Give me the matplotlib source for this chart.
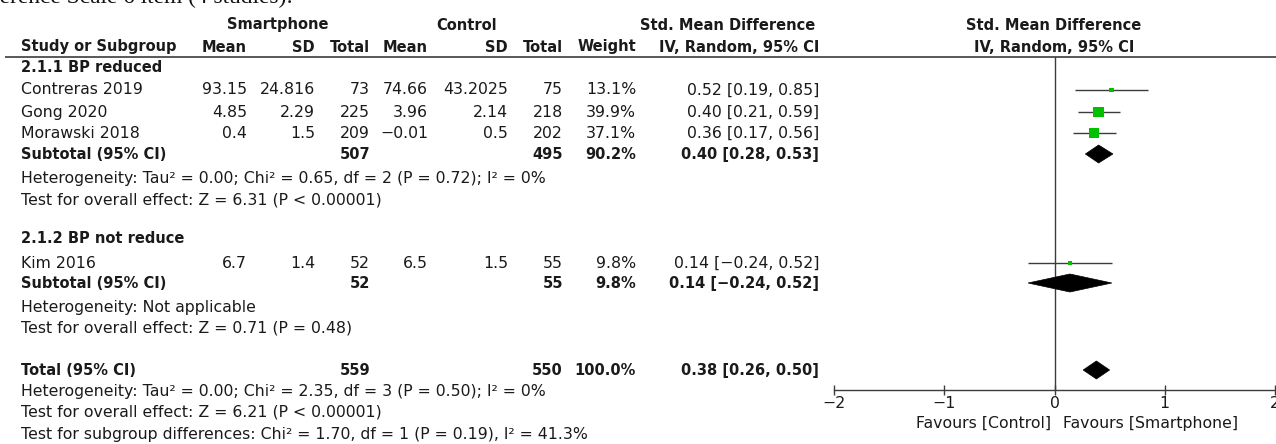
import matplotlib
matplotlib.use("Agg")
import matplotlib.pyplot as plt
from matplotlib.patches import Polygon

# ---------------------------------------------------------------- data
studies = ["Contreras 2019", "Gong 2020", "Morawski 2018", "Kim 2016"]
sp_mean = [93.15, 4.85, 0.4, 6.7]
sp_sd = [24.816, 2.29, 1.5, 1.4]
sp_n = [73, 225, 209, 52]
ct_mean = [74.66, 3.96, -0.01, 6.5]
ct_sd = [43.2025, 2.14, 0.5, 1.5]
ct_n = [75, 218, 202, 55]
weight = [13.1, 39.9, 37.1, 9.8]
smd = [0.52, 0.40, 0.36, 0.14]
smd_lo = [0.19, 0.21, 0.17, -0.24]
smd_hi = [0.85, 0.59, 0.56, 0.52]

groups = ["2.1.1 BP reduced", "2.1.2 BP not reduce"]
sub_sp_n = [507, 52]
sub_ct_n = [495, 55]
sub_weight = [90.2, 9.8]
sub_smd = [0.40, 0.14]
sub_lo = [0.28, -0.24]
sub_hi = [0.53, 0.52]
sub_het = ["Heterogeneity: Tau² = 0.00; Chi² = 0.65, df = 2 (P = 0.72); I² = 0%",
           "Heterogeneity: Not applicable"]
sub_test = ["Test for overall effect: Z = 6.31 (P < 0.00001)",
            "Test for overall effect: Z = 0.71 (P = 0.48)"]

tot_sp_n = 559
tot_ct_n = 550
tot_weight = 100.0
tot_smd = 0.38
tot_lo = 0.26
tot_hi = 0.50
tot_notes = ["Heterogeneity: Tau² = 0.00; Chi² = 2.35, df = 3 (P = 0.50); I² = 0%",
             "Test for overall effect: Z = 6.21 (P < 0.00001)",
             "Test for subgroup differences: Chi² = 1.70, df = 1 (P = 0.19), I² = 41.3%"]

x_ticks = [-2, -1, 0, 1, 2]
favours = ("Favours [Control]", "Favours [Smartphone]")
caption = "Difference Scale 6 item (4 studies):"

# ---------------------------------------------------------------- layout (pixels)
W, H, DPI = 1276, 444, 100
FS = 11.3      # regular text
FSB = 10.5     # bold text
TXT = "#1a1a1a"
LINE = "#3c3c3c"
GREEN = "#00c000"

study_y = [90, 112, 133, 263]
group_y = [68, 238]
sub_y = [154, 283]
sub_het_y = [178, 307]
sub_test_y = [200, 328]
total_y = 370
total_notes_y = [391, 412, 434]

col_left = 21
col_right = {"sp_mean": 247, "sp_sd": 315, "sp_n": 370, "ct_mean": 428,
             "ct_sd": 508, "ct_n": 563, "weight": 636, "ci": 819}


def num(v):
    return f"{v:g}".replace("-", "\u2212")


def ci_text(est, lo, hi):
    return f"{est:.2f} [{lo:.2f}, {hi:.2f}]".replace("-", "\u2212")


plt.rcParams["font.family"] = ["DejaVu Sans"]
fig = plt.figure(figsize=(W / DPI, H / DPI), dpi=DPI)
bg = fig.add_axes([0, 0, 1, 1])
bg.set_xlim(0, W)
bg.set_ylim(H, 0)
bg.axis("off")


def put(x, y, s, ha="left", bold=False, **kw):
    bg.text(x, y, s, ha=ha, va="center", fontsize=FSB if bold else FS, color=TXT,
            fontweight="bold" if bold else "normal", **kw)


# caption line running off the top edge
bg.text(293, 3, caption, ha="right", va="baseline", fontsize=16.8,
        family="Liberation Serif", color="#111111")

# column headers
put(278, 25, "Smartphone", ha="center", bold=True)
put(467, 25, "Control", ha="center", bold=True)
put(728, 25, "Std. Mean Difference", ha="center", bold=True)
put(1054, 25, "Std. Mean Difference", ha="center", bold=True)
put(col_left, 47, "Study or Subgroup", bold=True)
for key, lab in [("sp_mean", "Mean"), ("sp_sd", "SD"), ("sp_n", "Total"),
                 ("ct_mean", "Mean"), ("ct_sd", "SD"), ("ct_n", "Total"),
                 ("weight", "Weight"), ("ci", "IV, Random, 95% CI")]:
    put(col_right[key], 47, lab, ha="right", bold=True)
put(1054, 47, "IV, Random, 95% CI", ha="center", bold=True)
bg.plot([5, W], [57, 57], color=LINE, lw=1.2, solid_capstyle="butt")

# study rows
for i, name in enumerate(studies):
    y = study_y[i]
    put(col_left, y, name)
    put(col_right["sp_mean"], y, num(sp_mean[i]), ha="right")
    put(col_right["sp_sd"], y, num(sp_sd[i]), ha="right")
    put(col_right["sp_n"], y, str(sp_n[i]), ha="right")
    put(col_right["ct_mean"], y, num(ct_mean[i]), ha="right")
    put(col_right["ct_sd"], y, num(ct_sd[i]), ha="right")
    put(col_right["ct_n"], y, str(ct_n[i]), ha="right")
    put(col_right["weight"], y, f"{weight[i]:.1f}%", ha="right")
    put(col_right["ci"], y, ci_text(smd[i], smd_lo[i], smd_hi[i]), ha="right")

# subgroup rows
for g, gname in enumerate(groups):
    put(col_left, group_y[g], gname, bold=True)
    y = sub_y[g]
    put(col_left, y, "Subtotal (95% CI)", bold=True)
    put(col_right["sp_n"], y, str(sub_sp_n[g]), ha="right", bold=True)
    put(col_right["ct_n"], y, str(sub_ct_n[g]), ha="right", bold=True)
    put(col_right["weight"], y, f"{sub_weight[g]:.1f}%", ha="right", bold=True)
    put(col_right["ci"], y, ci_text(sub_smd[g], sub_lo[g], sub_hi[g]), ha="right", bold=True)
    put(col_left, sub_het_y[g], sub_het[g])
    put(col_left, sub_test_y[g], sub_test[g])

# overall row
put(col_left, total_y, "Total (95% CI)", bold=True)
put(col_right["sp_n"], total_y, str(tot_sp_n), ha="right", bold=True)
put(col_right["ct_n"], total_y, str(tot_ct_n), ha="right", bold=True)
put(col_right["weight"], total_y, f"{tot_weight:.1f}%", ha="right", bold=True)
put(col_right["ci"], total_y, ci_text(tot_smd, tot_lo, tot_hi), ha="right", bold=True)
for s, y in zip(tot_notes, total_notes_y):
    put(col_left, y, s)

# ---------------------------------------------------------------- forest panel
px0, px1, py_top, py_bot = 834, 1275, 57, 390
ax = fig.add_axes([px0 / W, (H - py_bot) / H, (px1 - px0) / W, (py_bot - py_top) / H])
ax.set_xlim(-2, 2)
ax.set_ylim(py_bot, py_top)
ax.patch.set_visible(False)
for side in ("top", "left", "right"):
    ax.spines[side].set_visible(False)
ax.spines["bottom"].set_color(LINE)
ax.spines["bottom"].set_linewidth(1.0)
ax.set_yticks([])
ax.set_xticks(x_ticks)
ax.tick_params(axis="x", direction="inout", length=6.5, width=1.0, color=LINE,
               labelsize=FS, labelcolor=TXT, pad=1.0)
ax.axvline(0, color=LINE, lw=1.0, zorder=1)

px_per_pt = DPI / 72.0
ax.hlines(study_y, smd_lo, smd_hi, color=LINE, lw=1.0, zorder=2)
sides_px = [1.7 + 0.232 * w for w in weight]
ax.scatter(smd, study_y, marker="s", s=[(p / px_per_pt) ** 2 for p in sides_px],
           color=GREEN, linewidths=0, zorder=3)


def diamond(est, lo, hi, y, half=9):
    ax.add_patch(Polygon([[lo, y], [est, y - half], [hi, y], [est, y + half]],
                         closed=True, facecolor="black", edgecolor="black",
                         lw=0.5, zorder=3))


for g in range(len(groups)):
    diamond(sub_smd[g], sub_lo[g], sub_hi[g], sub_y[g])
diamond(tot_smd, tot_lo, tot_hi, total_y)

put(1051, 423, favours[0], ha="right")
put(1063, 423, favours[1], ha="left")

fig.savefig("out.png", dpi=DPI)
